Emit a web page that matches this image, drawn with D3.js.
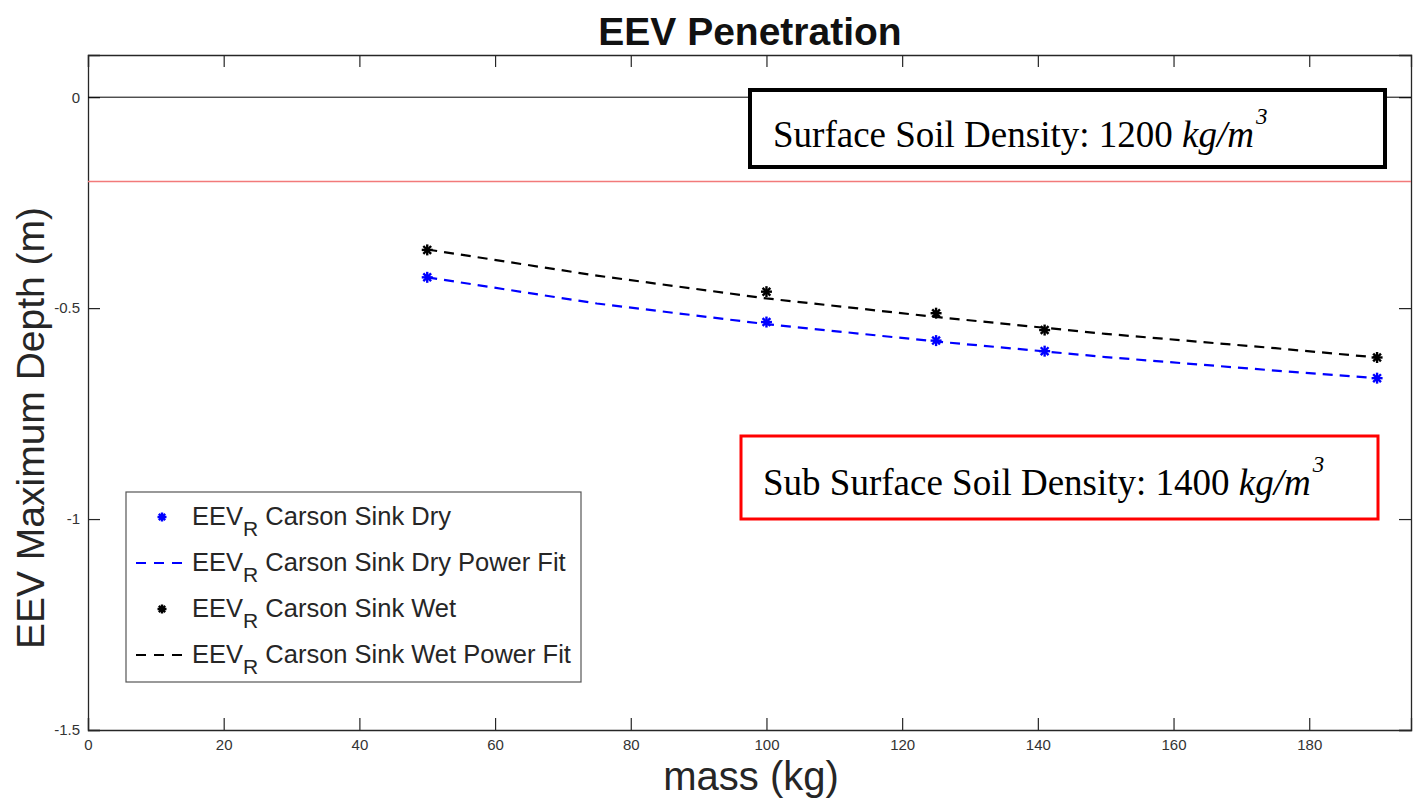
<!DOCTYPE html>
<html>
<head>
<meta charset="utf-8">
<script src="https://cdn.jsdelivr.net/npm/d3@7"></script>
<style>
  body { margin: 0; background: #fff; }
  text { font-family: Arial, "Liberation Sans", Helvetica, sans-serif; }
</style>
</head>
<body>
<script>
const W = 1415, H = 804;

const massPoints = [50, 100, 125, 141, 190];
const dryDepth = [-0.427, -0.533, -0.577, -0.602, -0.666];
const wetDepth = [-0.362, -0.461, -0.512, -0.552, -0.617];

// power-fit curves, read at a few masses
const fitMass = [50, 75, 100, 125, 150, 175, 190];
const dryFit = [-0.427, -0.489, -0.538, -0.579, -0.616, -0.648, -0.666];
const wetFit = [-0.361, -0.423, -0.477, -0.521, -0.561, -0.595, -0.617];

const xTicks = [0, 20, 40, 60, 80, 100, 120, 140, 160, 180];
const yTicks = [0, -0.5, -1, -1.5];
const surfaceDepth = -0.2;

const legendItems = [
  {label: " Carson Sink Dry", color: "#0000ff", type: "marker"},
  {label: " Carson Sink Dry Power Fit", color: "#0000ff", type: "line"},
  {label: " Carson Sink Wet", color: "#000000", type: "marker"},
  {label: " Carson Sink Wet Power Fit", color: "#000000", type: "line"}
];

const margin = {left: 88, right: W - 1411, top: 55, bottom: H - 730};

const svg = d3.select("body").append("svg")
    .attr("width", W)
    .attr("height", H);

const x = d3.scaleLinear().domain([0, 195]).range([margin.left, W - margin.right]);
const y = d3.scaleLinear().domain([-1.5, 0.1]).range([H - margin.bottom, margin.top]);

const axisColor = "#262626";
const TICK = 12;

// axes (ticks point inward, box on)
const gx = svg.append("g").attr("transform", `translate(0,${y(-1.5)})`)
    .call(d3.axisBottom(x).tickValues(xTicks).tickSize(-TICK).tickPadding(9).tickFormat(d => String(d)));
const gxTop = svg.append("g").attr("transform", `translate(0,${y(0.1)})`)
    .call(d3.axisTop(x).tickValues(xTicks).tickSize(-TICK).tickFormat(""));
const gy = svg.append("g").attr("transform", `translate(${x(0)},0)`)
    .call(d3.axisLeft(y).tickValues(yTicks).tickSize(-TICK).tickPadding(8).tickFormat(d => String(d)));
const gyR = svg.append("g").attr("transform", `translate(${x(195)},0)`)
    .call(d3.axisRight(y).tickValues(yTicks).tickSize(-TICK).tickFormat(""));

[gx, gxTop, gy, gyR].forEach(g => {
  g.select(".domain").attr("stroke", axisColor).attr("stroke-width", 1.3);
  g.selectAll(".tick line").attr("stroke", axisColor).attr("stroke-width", 1.2);
  g.selectAll(".tick text").attr("fill", "#333")
      .style("font-family", "Arial, 'Liberation Sans', sans-serif")
      .style("font-size", "15px");
});

// zero line and surface layer
svg.append("line")
    .attr("x1", x(0)).attr("x2", x(195))
    .attr("y1", y(0)).attr("y2", y(0))
    .attr("stroke", "#000").attr("stroke-width", 1);
svg.append("line")
    .attr("x1", x(0)).attr("x2", x(195))
    .attr("y1", y(surfaceDepth)).attr("y2", y(surfaceDepth))
    .attr("stroke", "#f27a7a").attr("stroke-width", 1.6);

// fit lines
const line = d3.line().x(d => x(d[0])).y(d => y(d[1]));
svg.append("path")
    .datum(d3.zip(fitMass, wetFit))
    .attr("d", line).attr("fill", "none")
    .attr("stroke", "#000").attr("stroke-width", 2.2).attr("stroke-dasharray", "10,7");
svg.append("path")
    .datum(d3.zip(fitMass, dryFit))
    .attr("d", line).attr("fill", "none")
    .attr("stroke", "#0000ff").attr("stroke-width", 2.2).attr("stroke-dasharray", "10,7");

// asterisk marker
function asterisk(g, cx, cy, color, r = 5.5) {
  const a = g.append("g").attr("transform", `translate(${cx},${cy})`)
      .attr("stroke", color).attr("stroke-width", 2.4);
  [0, 45, 90, 135].forEach(ang => {
    const rad = ang * Math.PI / 180;
    a.append("line")
        .attr("x1", -r * Math.cos(rad)).attr("y1", -r * Math.sin(rad))
        .attr("x2", r * Math.cos(rad)).attr("y2", r * Math.sin(rad));
  });
}

const pts = svg.append("g");
massPoints.forEach((m, i) => {
  asterisk(pts, x(m), y(wetDepth[i]), "#000");
  asterisk(pts, x(m), y(dryDepth[i]), "#0000ff");
});

// title and axis labels
svg.append("text")
    .attr("x", 750).attr("y", 45)
    .attr("text-anchor", "middle").attr("fill", "#111")
    .style("font-size", "39px").style("font-weight", "bold")
    .text("EEV Penetration");
svg.append("text")
    .attr("x", 751).attr("y", 790)
    .attr("text-anchor", "middle").attr("fill", "#262626")
    .style("font-size", "40px")
    .text("mass (kg)");
svg.append("text")
    .attr("transform", `translate(44,428) rotate(-90)`)
    .attr("text-anchor", "middle").attr("fill", "#262626")
    .style("font-size", "39px")
    .text("EEV Maximum Depth (m)");

// legend
const lg = svg.append("g");
lg.append("rect")
    .attr("x", 126).attr("y", 492).attr("width", 455).attr("height", 190)
    .attr("fill", "#fff").attr("stroke", "#555").attr("stroke-width", 1.2);
const rowY = [517, 563, 609, 655];
legendItems.forEach((it, i) => {
  const ry = rowY[i];
  if (it.type === "marker") {
    asterisk(lg, 162, ry, it.color, 4.5);
  } else {
    lg.append("line")
        .attr("x1", 136).attr("x2", 188).attr("y1", ry).attr("y2", ry)
        .attr("stroke", it.color).attr("stroke-width", 2)
        .attr("stroke-dasharray", "10,8");
  }
  const t = lg.append("text")
      .attr("x", 192).attr("y", ry + 8)
      .attr("fill", "#262626")
      .style("font-size", "25.5px");
  t.append("tspan").text("EEV");
  t.append("tspan").attr("dy", 11).style("font-size", "21px").text("R");
  t.append("tspan").attr("dy", -11).text(it.label);
});

// annotation boxes
function densityBox(bx, by, bw, bh, color, sw, tx, ty, prefix) {
  svg.append("rect")
      .attr("x", bx).attr("y", by).attr("width", bw).attr("height", bh)
      .attr("fill", "#fff").attr("stroke", color).attr("stroke-width", sw);
  const t = svg.append("text")
      .attr("x", tx).attr("y", ty)
      .style("font-family", "'Liberation Serif', 'Times New Roman', serif")
      .style("font-size", "37px");
  t.append("tspan").text(prefix);
  t.append("tspan").style("font-style", "italic").text("kg/m");
  t.append("tspan").attr("dy", -23).attr("dx", 2).style("font-style", "italic").style("font-size", "23px").text("3");
}
densityBox(750, 90, 635, 77, "#000", 4, 773, 147, "Surface Soil Density: 1200 ");
densityBox(741, 436, 637, 83, "#ff0000", 3, 763, 495, "Sub Surface Soil Density: 1400 ");
</script>
</body>
</html>
